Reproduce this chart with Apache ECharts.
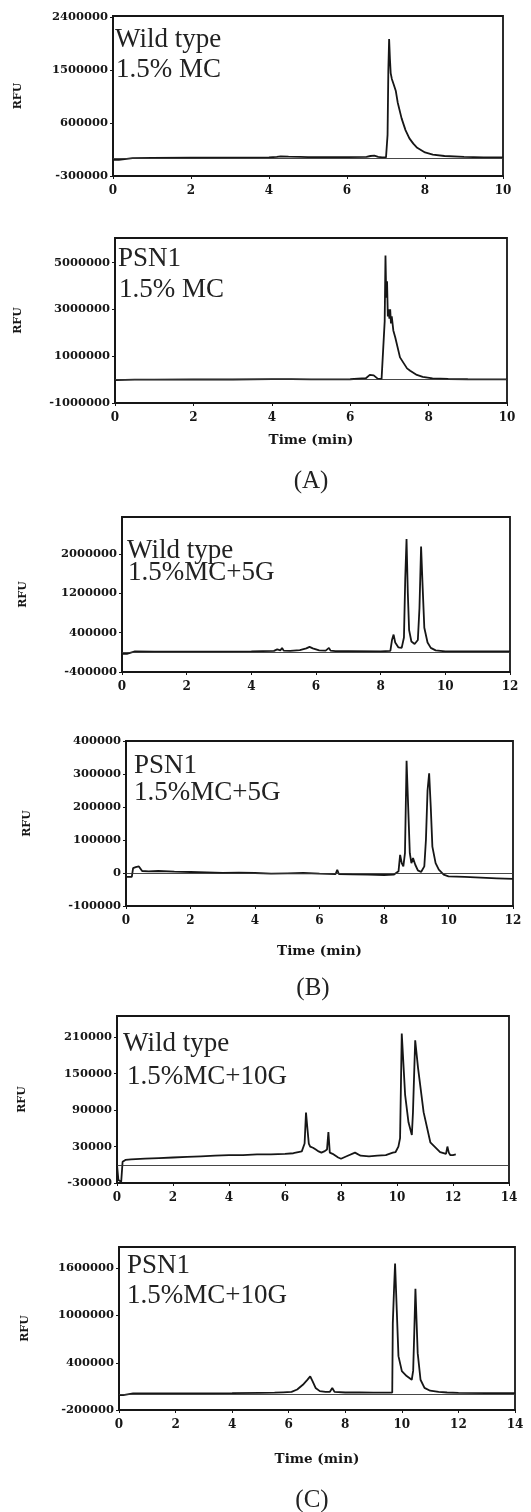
<!DOCTYPE html>
<html>
<head>
<meta charset="utf-8">
<script src="https://cdn.jsdelivr.net/npm/echarts@6/dist/echarts.min.js"></script>
<style>
html,body{margin:0;padding:0;background:#fff;}
#chart{width:531px;height:1512px;}
</style>
</head>
<body>
<div id="chart"></div>
<script>
// ---- Panel A, top: Wild type, 1.5% MC ----
const p1Time = [0,0.15,0.2,0.5,1,2,3,4,4.2,4.3,4.5,4.8,5,6,6.5,6.6,6.7,6.8,6.9,7.0,7.04,7.06,7.08,7.1,7.12,7.15,7.2,7.25,7.3,7.4,7.5,7.6,7.7,7.8,8.0,8.2,8.5,9.0,9.5,10];
const p1Rfu  = [-25000,-25000,0,5000,8000,10000,12000,15000,25000,35000,28000,25000,22000,20000,25000,40000,45000,25000,15000,15000,400000,1500000,2030000,1700000,1450000,1350000,1250000,1150000,950000,680000,480000,340000,250000,180000,100000,65000,40000,25000,18000,15000];
// ---- Panel A, bottom: PSN1, 1.5% MC ----
const p2Time = [0,0.5,1,2,3,4,4.5,5,6,6.4,6.5,6.55,6.6,6.7,6.8,6.85,6.88,6.9,6.92,6.94,6.96,6.98,7.0,7.02,7.04,7.06,7.1,7.15,7.27,7.45,7.53,7.7,7.85,8.1,8.5,9,10];
const p2Rfu  = [-20000,0,0,10000,5000,20000,20000,10000,15000,60000,200000,230000,180000,40000,20000,50000,2500000,5300000,3500000,4200000,2700000,3000000,2600000,3000000,2400000,2700000,2100000,1800000,950000,480000,380000,200000,120000,50000,25000,15000,10000];
// ---- Panel B, top: Wild type, 1.5%MC+5G ----
const p3Time = [0,0.15,0.2,0.4,1,2,3,4,4.7,4.8,4.85,4.9,4.95,5.0,5.2,5.5,5.7,5.8,5.9,6.1,6.3,6.4,6.45,6.6,7,8,8.3,8.35,8.4,8.45,8.55,8.65,8.72,8.76,8.8,8.84,8.88,8.95,9.05,9.15,9.2,9.25,9.3,9.35,9.45,9.55,9.7,10,11,12];
const p3Rfu  = [-30000,-30000,10000,20000,15000,15000,15000,20000,30000,60000,30000,40000,90000,35000,30000,45000,80000,110000,80000,40000,35000,90000,35000,25000,25000,20000,30000,250000,360000,200000,100000,90000,300000,1500000,2300000,1200000,450000,220000,170000,250000,900000,2150000,1300000,500000,200000,90000,40000,20000,20000,20000];
// ---- Panel B, bottom: PSN1, 1.5%MC+5G ----
const p4Time = [0,0.18,0.22,0.3,0.4,0.45,0.5,0.7,1,1.5,2,2.5,3,3.5,4,4.5,5,5.5,6,6.5,6.55,6.6,7,7.5,8,8.3,8.45,8.5,8.55,8.6,8.65,8.7,8.75,8.8,8.85,8.9,8.93,8.97,9.05,9.15,9.25,9.3,9.35,9.4,9.45,9.5,9.6,9.7,9.85,10,10.5,11,11.5,12];
const p4Rfu  = [-12000,-12000,15000,18000,20000,18000,6000,5000,6000,4000,3000,2000,0,1000,0,-2000,-1000,0,-2000,-3000,10000,-3000,-4000,-5000,-6000,-5000,5000,55000,30000,20000,60000,340000,200000,60000,30000,45000,48000,25000,8000,3000,20000,100000,250000,302000,200000,80000,30000,10000,-5000,-10000,-12000,-14000,-16000,-18000];
// ---- Panel C, top: Wild type, 1.5%MC+10G ----
const p5Time = [0,0.05,0.1,0.15,0.2,0.3,0.5,1,1.5,2,2.5,3,3.5,4,4.5,5,5.5,6,6.3,6.6,6.7,6.75,6.8,6.85,6.9,7.0,7.1,7.2,7.3,7.4,7.5,7.55,7.6,7.7,7.9,8.0,8.2,8.5,8.7,9,9.3,9.6,9.85,9.95,10.05,10.11,10.17,10.29,10.41,10.53,10.57,10.65,10.75,10.95,11.19,11.54,11.75,11.8,11.85,11.9,12.0,12.1];
const p5Rfu  = [0,-25000,-28000,-28000,5000,8000,9000,10000,11000,12000,13000,14000,15000,16000,16000,17000,17000,18000,19000,22000,35000,86000,60000,35000,30000,28000,25000,22000,20000,22000,25000,54000,20000,18000,12000,10000,14000,20000,15000,14000,15000,16000,20000,21000,30000,44000,216000,115000,70000,49000,86000,205000,160000,86700,37000,21000,18000,30000,20000,16000,16000,17000];
// ---- Panel C, bottom: PSN1, 1.5%MC+10G ----
const p6Time = [0,0.15,0.2,0.5,1,2,3,4,5,5.5,5.8,6.1,6.3,6.5,6.65,6.76,6.85,6.95,7.1,7.3,7.45,7.54,7.62,8,8.5,9,9.5,9.66,9.68,9.72,9.76,9.82,9.88,10.0,10.17,10.35,10.4,10.44,10.48,10.56,10.66,10.8,11.0,11.3,11.6,12,13,14];
const p6Rfu  = [-10000,-10000,8000,10000,10000,12000,12000,14000,18000,20000,25000,30000,60000,120000,180000,227000,160000,80000,40000,30000,30000,80000,30000,22000,22000,20000,20000,22000,900000,1300000,1660000,1070000,484000,294000,231000,184000,300000,800000,1338000,522000,184000,81000,45000,30000,22000,18000,15000,15000];

// Axis ranges and tick labels
const xMax = [10,10,12,12,14,14];
const yMin = [-300000,-1000000,-400000,-100000,-30000,-200000];
const yMax = [2420000,6050000,2750000,400000,245000,1870000];
const yTicks = [
  [-300000,600000,1500000,2400000],
  [-1000000,1000000,3000000,5000000],
  [-400000,400000,1200000,2000000],
  [-100000,0,100000,200000,300000,400000],
  [-30000,30000,90000,150000,210000],
  [-200000,400000,1000000,1600000]
];
const sampleLines = [
  ['Wild type','1.5% MC'],
  ['PSN1','1.5% MC'],
  ['Wild type','1.5%MC+5G'],
  ['PSN1','1.5%MC+5G'],
  ['Wild type','1.5%MC+10G'],
  ['PSN1','1.5%MC+10G']
];
const panelLetters = ['(A)','(B)','(C)'];
const yName = 'RFU';
const xName = 'Time (min)';

const times = [p1Time,p2Time,p3Time,p4Time,p5Time,p6Time];
const values = [p1Rfu,p2Rfu,p3Rfu,p4Rfu,p5Rfu,p6Rfu];

// layout (pixels)
const grids = [
  {left:113, top:16,   width:390, height:160},
  {left:115, top:238,  width:392, height:165},
  {left:122, top:517,  width:388, height:155},
  {left:126, top:741,  width:387, height:165},
  {left:117, top:1016, width:392, height:167},
  {left:119, top:1247, width:396, height:163}
];
const rfuGap = [89,91,93,93,89,88];
const timeGap = [0,30,0,38,0,42];
const textPos = [
  [[115,41],[116,71]],
  [[118,260],[119,291]],
  [[127,552],[128,574]],
  [[134,767],[134,794]],
  [[123,1045],[127,1078]],
  [[127,1267],[127,1297]]
];
const letterPos = [[311,481],[313,988],[312,1500]];

const INK = '#161616';
const tickFont = {fontFamily:'DejaVu Serif', fontWeight:'bold', fontSize:12, color:INK};

const option = {
  animation:false,
  backgroundColor:'#fff',
  grid: grids.map(g => Object.assign({show:true, borderColor:INK, borderWidth:1.8, backgroundColor:'transparent', containLabel:false}, g)),
  xAxis: grids.map((g,i) => ({
    type:'value', gridIndex:i, min:0, max:xMax[i], interval:2,
    axisLine:{show:true, onZero:false, lineStyle:{color:INK, width:1.8}},
    axisTick:{show:true, length:3, lineStyle:{color:INK}},
    axisLabel:Object.assign({margin:9}, tickFont),
    splitLine:{show:false},
    name: timeGap[i] ? xName : '',
    nameLocation:'middle', nameGap: timeGap[i],
    nameTextStyle:{fontFamily:'DejaVu Serif', fontWeight:'bold', fontSize:13.5, color:INK}
  })),
  yAxis: grids.map((g,i) => ({
    type:'value', gridIndex:i, min:yMin[i], max:yMax[i],
    axisLine:{show:true, lineStyle:{color:INK, width:1.8}},
    axisTick:{show:true, length:3, customValues:yTicks[i], lineStyle:{color:INK}},
    axisLabel:Object.assign({margin:5, customValues:yTicks[i], formatter:v => String(v)}, tickFont, {fontSize:11.5}),
    splitLine:{show:false},
    name:yName, nameLocation:'middle', nameRotate:90, nameGap:rfuGap[i],
    nameTextStyle:{fontFamily:'DejaVu Serif', fontWeight:'bold', fontSize:11, color:INK}
  })),
  series: times.map((t,i) => ({
    type:'line', xAxisIndex:i, yAxisIndex:i,
    data: t.map((x,k) => [x, values[i][k]]),
    showSymbol:false, symbol:'none', smooth:false,
    lineStyle:{color:INK, width:1.8},
    markLine:{silent:true, symbol:'none', label:{show:false},
      lineStyle:{color:'#333', width:0.9, type:'solid'},
      data:[{yAxis:0}]}
  })),
  graphic: [].concat(
    ...sampleLines.map((lines,i) => lines.map((s,k) => ({
      type:'text', left:textPos[i][k][0], top:textPos[i][k][1] - 15,
      style:{text:s, font:'27px "Liberation Serif"', fill:'#222'}
    }))),
    panelLetters.map((s,i) => ({
      type:'text', x:letterPos[i][0], y:letterPos[i][1],
      style:{text:s, font:'25px "Liberation Serif"', fill:'#222', align:'center', verticalAlign:'middle'}
    }))
  )
};

const chart = echarts.init(document.getElementById('chart'), null, {renderer:'canvas'});
chart.setOption(option);
</script>
</body>
</html>
